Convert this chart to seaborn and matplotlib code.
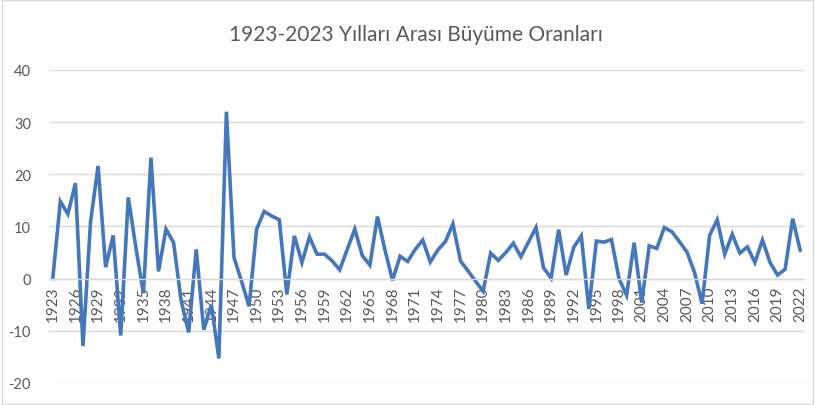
import matplotlib
matplotlib.use("Agg")
import matplotlib.pyplot as plt
import seaborn as sns
import pandas as pd
from matplotlib.patches import Rectangle

years = list(range(1923, 2023))
growth = [
    0.0, 14.8, 12.4, 18.3, -12.9, 10.9, 21.6, 2.2, 8.3, -10.9,
    15.6, 6.0, -2.8, 23.2, 1.4, 9.5, 6.9, -4.2, -10.3, 5.6,
    -9.8, -5.0, -15.3, 32.0, 4.1, -0.5, -5.3, 9.5, 12.9, 12.0,
    11.3, -3.0, 8.2, 3.1, 8.0, 4.7, 4.7, 3.4, 1.7, 5.6,
    9.5, 4.4, 2.6, 11.9, 5.5, -0.3, 4.3, 3.3, 5.6, 7.4,
    3.2, 5.5, 7.1, 10.5, 3.4, 1.5, -0.5, -2.4, 4.9, 3.5,
    5.0, 6.8, 4.2, 7.0, 9.8, 2.1, 0.1, 9.4, 0.7, 6.0,
    8.2, -5.8, 7.2, 7.0, 7.5, 0.0, -3.2, 6.9, -4.6, 6.3,
    5.8, 9.8, 9.0, 7.1, 5.1, 1.2, -4.8, 8.3, 11.3, 4.7,
    8.5, 4.9, 6.1, 3.1, 7.4, 3.1, 0.7, 1.8, 11.5, 5.4,
]
tick_years = years[::3]
y_ticks = [-20, -10, 0, 10, 20, 30, 40]
title = "1923-2023 Yılları Arası Büyüme Oranları"

df = pd.DataFrame({"Yıl": years, "Büyüme": growth})

sns.set_theme(style="whitegrid")
plt.rcParams["font.family"] = ["Lato", "DejaVu Sans"]

gray_text = "#595959"
grid_col = "#D9D9D9"

fig = plt.figure(figsize=(8.15, 4.06), dpi=100)
ax = fig.add_axes([49 / 815, 1 - 384 / 406, 755 / 815, 313 / 406])

sns.lineplot(data=df, x="Yıl", y="Büyüme", ax=ax, color="#4577BD",
             linewidth=2.6, solid_joinstyle="miter")

ax.set_xlim(years[0] - 0.5, years[-1] + 0.5)
ax.set_ylim(-20, 40)
ax.set_yticks(y_ticks)
ax.set_yticklabels([str(v) for v in y_ticks])
ax.set_xticks(tick_years)
ax.set_xticklabels([str(y) for y in tick_years])
ax.set_xlabel("")
ax.set_ylabel("")

ax.grid(axis="x", visible=False)
ax.grid(axis="y", color=grid_col, linewidth=1.0)
for s in ["top", "right", "left"]:
    ax.spines[s].set_visible(False)
ax.spines["bottom"].set_position(("data", 0))
ax.spines["bottom"].set_color(grid_col)
ax.spines["bottom"].set_linewidth(1.0)

ax.tick_params(axis="y", length=0, pad=13, labelsize=10.5, labelcolor=gray_text)
ax.tick_params(axis="x", length=0, pad=5, labelsize=11, labelcolor=gray_text,
               labelrotation=90)
for lab in ax.get_xticklabels():
    lab.set_verticalalignment("top")
    lab.set_horizontalalignment("center")
ax.set_facecolor("white")

fig.text(0.51, 1 - 35 / 406, title, ha="center", va="center",
         fontsize=15, color=gray_text)

fig.patches.append(Rectangle((0.002, 0.003), 0.996, 0.994, transform=fig.transFigure,
                             fill=False, edgecolor=grid_col, linewidth=1.0))

fig.savefig("out.png", dpi=100, facecolor="white")
